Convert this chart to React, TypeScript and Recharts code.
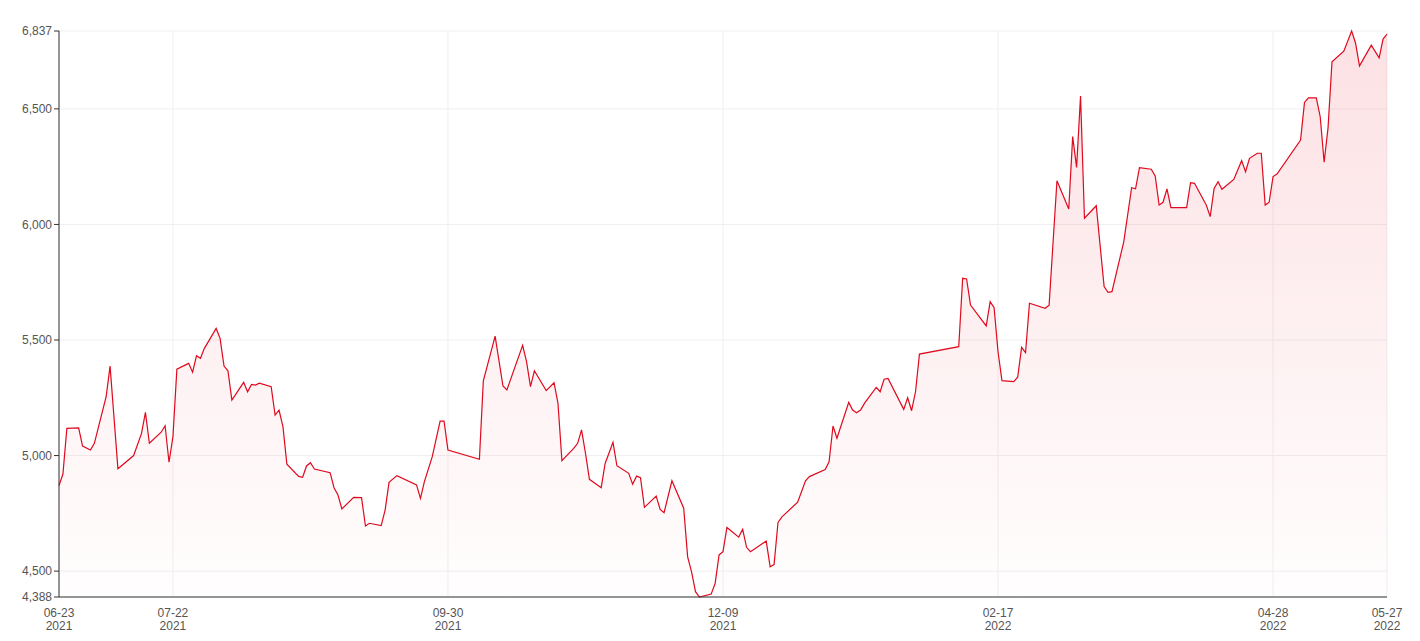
import { Area, AreaChart, CartesianGrid, XAxis, YAxis } from 'recharts';

const dates = [
  '2021-06-23', '2021-06-24', '2021-06-25', '2021-06-28', '2021-06-29', '2021-07-01', '2021-07-02', '2021-07-05',
  '2021-07-06', '2021-07-08', '2021-07-12', '2021-07-14', '2021-07-15', '2021-07-16', '2021-07-19', '2021-07-20',
  '2021-07-21', '2021-07-22', '2021-07-23', '2021-07-26', '2021-07-27', '2021-07-28', '2021-07-29', '2021-07-30',
  '2021-08-02', '2021-08-03', '2021-08-04', '2021-08-05', '2021-08-06', '2021-08-09', '2021-08-10', '2021-08-11',
  '2021-08-12', '2021-08-13', '2021-08-16', '2021-08-17', '2021-08-18', '2021-08-19', '2021-08-20', '2021-08-23',
  '2021-08-24', '2021-08-25', '2021-08-26', '2021-08-27', '2021-08-31', '2021-09-01', '2021-09-02', '2021-09-03',
  '2021-09-06', '2021-09-08', '2021-09-09', '2021-09-10', '2021-09-13', '2021-09-14', '2021-09-15', '2021-09-17',
  '2021-09-22', '2021-09-23', '2021-09-24', '2021-09-26', '2021-09-28', '2021-09-29', '2021-09-30', '2021-10-08',
  '2021-10-09', '2021-10-12', '2021-10-14', '2021-10-15', '2021-10-19', '2021-10-20', '2021-10-21', '2021-10-22',
  '2021-10-25', '2021-10-27', '2021-10-28', '2021-10-29', '2021-11-01', '2021-11-02', '2021-11-03', '2021-11-04',
  '2021-11-05', '2021-11-08', '2021-11-09', '2021-11-11', '2021-11-12', '2021-11-15', '2021-11-16', '2021-11-17',
  '2021-11-18', '2021-11-19', '2021-11-22', '2021-11-23', '2021-11-24', '2021-11-26', '2021-11-29', '2021-11-30',
  '2021-12-01', '2021-12-02', '2021-12-03', '2021-12-06', '2021-12-07', '2021-12-08', '2021-12-09', '2021-12-10',
  '2021-12-13', '2021-12-14', '2021-12-15', '2021-12-16', '2021-12-20', '2021-12-21', '2021-12-22', '2021-12-23',
  '2021-12-24', '2021-12-28', '2021-12-30', '2021-12-31', '2022-01-04', '2022-01-05', '2022-01-06', '2022-01-07',
  '2022-01-10', '2022-01-11', '2022-01-12', '2022-01-13', '2022-01-14', '2022-01-17', '2022-01-18', '2022-01-19',
  '2022-01-20', '2022-01-24', '2022-01-25', '2022-01-26', '2022-01-27', '2022-01-28', '2022-02-07', '2022-02-08',
  '2022-02-09', '2022-02-10', '2022-02-14', '2022-02-15', '2022-02-16', '2022-02-17', '2022-02-18', '2022-02-21',
  '2022-02-22', '2022-02-23', '2022-02-24', '2022-02-25', '2022-03-01', '2022-03-02', '2022-03-04', '2022-03-07',
  '2022-03-08', '2022-03-09', '2022-03-10', '2022-03-11', '2022-03-14', '2022-03-16', '2022-03-17', '2022-03-18',
  '2022-03-21', '2022-03-23', '2022-03-24', '2022-03-25', '2022-03-28', '2022-03-29', '2022-03-30', '2022-03-31',
  '2022-04-01', '2022-04-02', '2022-04-06', '2022-04-07', '2022-04-08', '2022-04-11', '2022-04-12', '2022-04-13',
  '2022-04-14', '2022-04-15', '2022-04-18', '2022-04-20', '2022-04-21', '2022-04-22', '2022-04-24', '2022-04-25',
  '2022-04-26', '2022-04-27', '2022-04-28', '2022-04-29', '2022-05-05', '2022-05-06', '2022-05-07', '2022-05-09',
  '2022-05-10', '2022-05-11', '2022-05-12', '2022-05-13', '2022-05-16', '2022-05-18', '2022-05-19', '2022-05-20',
  '2022-05-23', '2022-05-25', '2022-05-26', '2022-05-27',
];

const prices = [
  4870, 4920, 5118, 5120, 5041, 5024, 5053, 5255,
  5387, 4943, 5000, 5096, 5187, 5053, 5101, 5129,
  4971, 5082, 5374, 5399, 5361, 5432, 5421, 5464,
  5550, 5507, 5387, 5367, 5240, 5317, 5276, 5308,
  5305, 5313, 5298, 5175, 5197, 5125, 4963, 4910,
  4906, 4955, 4969, 4942, 4926, 4861, 4829, 4769,
  4819, 4818, 4695, 4707, 4697, 4764, 4884, 4913,
  4873, 4815, 4887, 4995, 5149, 5149, 5024, 4984,
  5323, 5517, 5301, 5284, 5477, 5406, 5298, 5367,
  5281, 5315, 5226, 4978, 5031, 5053, 5111, 5010,
  4897, 4861, 4966, 5057, 4956, 4923, 4876, 4911,
  4904, 4776, 4825, 4767, 4753, 4891, 4772, 4562,
  4497, 4411, 4388, 4401, 4447, 4570, 4584, 4689,
  4647, 4681, 4603, 4584, 4630, 4519, 4528, 4711,
  4735, 4798, 4891, 4909, 4940, 4973, 5128, 5075,
  5230, 5197, 5185, 5197, 5226, 5295, 5276, 5330,
  5334, 5200, 5250, 5194, 5276, 5439, 5471, 5767,
  5764, 5651, 5561, 5666, 5640, 5449, 5324, 5320,
  5339, 5468, 5445, 5659, 5637, 5651, 6189, 6067,
  6380, 6247, 6556, 6027, 6081, 5731, 5706, 5709,
  5925, 6159, 6154, 6246, 6239, 6210, 6084, 6096,
  6154, 6073, 6073, 6181, 6178, 6084, 6034, 6156,
  6185, 6152, 6195, 6276, 6228, 6286, 6308, 6308,
  6084, 6096, 6207, 6218, 6365, 6528, 6548, 6548,
  6466, 6269, 6419, 6704, 6750, 6837, 6784, 6686,
  6776, 6721, 6802, 6824,
];

const tickDates = ['2021-06-23', '2021-07-22', '2021-09-30', '2021-12-09', '2022-02-17', '2022-04-28', '2022-05-27'];
const yTicks = [4388, 4500, 5000, 5500, 6000, 6500, 6837];

const toTime = (s: string) => {
  const [y, m, d] = s.split('-').map(Number);
  return Date.UTC(y, m - 1, d);
};

const data = dates.map((d, i) => ({ t: toTime(d), price: prices[i] }));
const xTicks = tickDates.map(toTime);

const FONT = '"Liberation Sans", Arial, sans-serif';

const DateTick = (props: any) => {
  const { x, y, payload } = props;
  const d = new Date(payload.value);
  const mm = String(d.getUTCMonth() + 1).padStart(2, '0');
  const dd = String(d.getUTCDate()).padStart(2, '0');
  return (
    <g transform={`translate(${x},${y})`}>
      <text textAnchor="middle" fill="#555" fontSize={12} fontFamily={FONT}>
        <tspan x={0} dy={12}>{`${mm}-${dd}`}</tspan>
        <tspan x={0} dy={13}>{d.getUTCFullYear()}</tspan>
      </text>
    </g>
  );
};

export default function App() {
  return (
    <div style={{ position: 'absolute', left: 0, top: 0, width: 1420, height: 641, background: '#fff' }}>
      <AreaChart width={1420} height={641} data={data} margin={{ top: 31, right: 33, left: 5, bottom: 14 }}>
        <defs>
          <linearGradient id="priceFill" x1="0" x2="0" y1="0" y2="1">
            <stop offset="0%" stopColor="#e8001c" stopOpacity={0.2} />
            <stop offset="100%" stopColor="#e8001c" stopOpacity={0.01} />
          </linearGradient>
        </defs>
        <CartesianGrid stroke="#efefef" />
        <XAxis
          dataKey="t"
          type="number"
          scale="time"
          domain={['dataMin', 'dataMax']}
          ticks={xTicks}
          tick={<DateTick />}
          tickLine={false}
          axisLine={{ stroke: '#333' }}
          height={30}
          interval={0}
        />
        <YAxis
          type="number"
          domain={[4388, 6837]}
          ticks={yTicks}
          width={54}
          tickSize={5}
          tickLine={{ stroke: '#333' }}
          axisLine={{ stroke: '#333' }}
          interval={0}
          tick={{ fill: '#555', fontSize: 12, fontFamily: FONT }}
          tickFormatter={(v: number) => v.toLocaleString('en-US')}
        />
        <Area
          type="linear"
          dataKey="price"
          stroke="#de0a1e"
          strokeWidth={1.2}
          fill="url(#priceFill)"
          baseValue={4388}
          dot={false}
          activeDot={false}
          isAnimationActive={false}
        />
      </AreaChart>
    </div>
  );
}
